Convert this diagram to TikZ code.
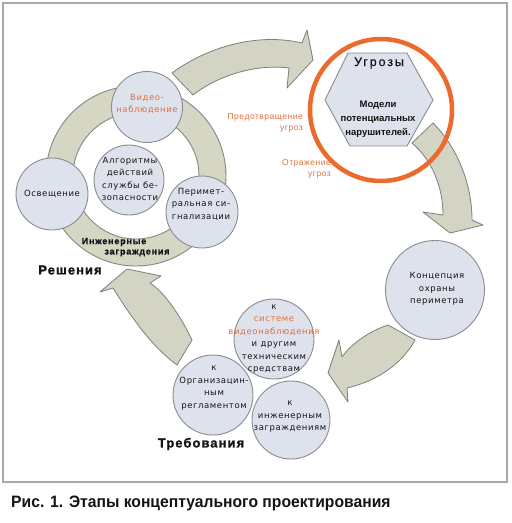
\documentclass[tikz,border=0pt]{standalone}
\usepackage{fontspec}
\setmainfont{Liberation Sans}
\newfontfamily\circfont[LetterSpace=7]{DejaVu Sans}
\newfontfamily\labfont[LetterSpace=6]{Liberation Sans}
\newfontfamily\headfont[LetterSpace=8,BoldFeatures={FakeBold=1.2}]{Liberation Sans}
\newfontfamily\ringfont[LetterSpace=9,BoldFeatures={FakeBold=1}]{Liberation Sans}
\newfontfamily\ugfont[LetterSpace=15,FakeBold=0.4]{Liberation Sans}
\newfontfamily\capfont[FakeStretch=0.95]{Liberation Sans}
\definecolor{bubfill}{HTML}{DDE2EC}
\definecolor{bubline}{HTML}{8A8C90}
\definecolor{ringfill}{HTML}{D5D6C4}
\definecolor{ringline}{HTML}{86877E}
\definecolor{arrfill}{HTML}{D3D4C3}
\definecolor{arrline}{HTML}{7E7F78}
\definecolor{orng}{HTML}{EC6A2C}
\definecolor{otext}{HTML}{E2703C}
\definecolor{framec}{HTML}{A8A8A8}
\definecolor{txt}{HTML}{141414}
\tikzset{
  bub/.style={circle, draw=bubline, line width=0.9pt, fill=bubfill, inner sep=0pt},
  arrowshape/.style={draw=arrline, fill=arrfill, line width=0.8pt, line join=round},
  ringstyle/.style={draw=ringline, fill=ringfill, line width=0.9pt},
  ctext/.style={font=\circfont\fontsize{8.5}{12.5}\selectfont, align=center, text=txt, inner sep=0pt},
  otxt/.style={font=\labfont\fontsize{8.5}{10.5}\selectfont, align=right, text=otext, inner sep=0pt},
  headtxt/.style={font=\headfont\bfseries\fontsize{13}{15}\selectfont, text=txt, inner sep=0pt},
  ringtxt/.style={font=\ringfont\bfseries\fontsize{9}{10}\selectfont, text=txt, inner sep=0pt},
  boldtxt/.style={font=\bfseries\fontsize{9.5}{14}\selectfont, align=center, text=txt, inner sep=0pt}
}
\begin{document}
\begin{tikzpicture}[x=1pt,y=-1pt]
\useasboundingbox (0,0) rectangle (512,523);
\fill[white] (0,0) rectangle (512,523);
\draw[framec, line width=1.5pt] (3,3) rectangle (507,482);

% ring of solutions
\path[ringstyle, even odd rule] (136,176) circle[radius=90pt] (136,176) circle[radius=63pt];

% arrows
\path[arrowshape] (172,73) .. controls (210,45) and (260,33) .. (302,43) -- (307,30) -- (313,60) -- (287,88) -- (289,68)
  .. controls (258,64) and (220,74) .. (193,95) -- cycle;
\path[arrowshape] (433,123) .. controls (458,148) and (472,185) .. (472,220) -- (483,225) -- (450,233) -- (423,212) -- (443,215)
  .. controls (443,187) and (432,160) .. (412,143) -- cycle;
\path[arrowshape] (388,325) .. controls (370,331) and (352,343) .. (342,357) -- (339,340) -- (328,373) -- (348,402) -- (347,388)
  .. controls (377,381) and (402,364) .. (415,340) -- cycle;
\path[arrowshape] (192,340) .. controls (180,315) and (165,293) .. (150,283) -- (161,276) -- (127,269) -- (100,292) -- (113,288)
  .. controls (130,315) and (150,345) .. (177,365) -- cycle;

% circles
\node[bub, minimum size=71pt] (video) at (147,107) {};
\node[bub, minimum size=72pt] (osv) at (52,194) {};
\node[bub, minimum size=72pt] (perim) at (202,212) {};
\node[bub, minimum size=70pt] (algo) at (129,180) {};
\node[bub, minimum size=99pt] (konc) at (435,290) {};
\node[bub, minimum size=80pt] (sist) at (274,339) {};
\node[bub, minimum size=80pt] (org) at (213,395) {};
\node[bub, minimum size=78pt] (inzh) at (291,420) {};

% threats
\path[draw=bubline, line width=0.9pt, fill=bubfill] (348,53) -- (407,53) -- (433,100) -- (407,146) -- (350,146) -- (325,100) -- cycle;
\draw[orng, line width=4.5pt] (381,110) circle[radius=71pt];

% texts
\node[ctext, text=otext] (videoT) at (147,104) {Видео-\\наблюдение};
\node[ctext] (algoT) at (130,179) {Алгоритмы\\действий\\службы бе-\\зопасности};
\node[ctext] (osvT) at (52,194) {Освещение};
\node[ctext] (perimT) at (201,204) {Перимет-\\ральная си-\\гнализации};
\node[ringtxt] (ring1) at (114,242) {Инженерные};
\node[ringtxt] (ring2) at (137,253) {заграждения};
\node[headtxt] (resh) at (70,270) {Решения};
\node[headtxt] (treb) at (201,444) {Требования};
\node[ctext] (koncT) at (437,289) {Концепция\\охраны\\периметра};
\node[ctext] (sistT) at (274,339) {к\\\textcolor{otext}{системе}\\\textcolor{otext}{видеонаблюдения}\\и другим\\техническим\\средствам};
\node[ctext] (orgT) at (214,388) {к\\Организацин-\\ным\\регламентом};
\node[ctext] (inzhT) at (290,417) {к\\инженерным\\заграждениям};
\node[font=\ugfont\fontsize{12.5}{14}\selectfont, text=txt, inner sep=0pt] (ugT) at (379,63) {Угрозы};
\node[boldtxt] (modT) at (378,119) {Модели\\потенциальных\\нарушителей.};
\node[otxt, anchor=east] (predT) at (303,123) {Предотвращение\\угроз};
\node[otxt, anchor=east] (otrT) at (331,169) {Отражение\\угроз};

% caption
\node[font=\capfont\bfseries\fontsize{16.5}{18}\selectfont, text=txt, anchor=west, inner sep=0pt] (cap) at (11,503) {Рис. 1. Этапы концептуального проектирования};
\end{tikzpicture}
\end{document}
